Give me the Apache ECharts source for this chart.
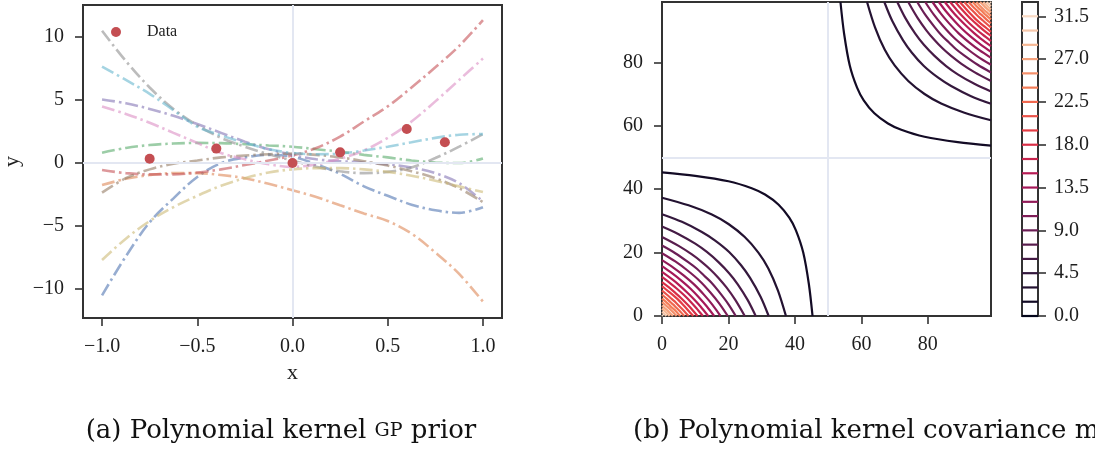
<!DOCTYPE html>
<html>
<head>
<meta charset="utf-8">
<script src="https://cdn.jsdelivr.net/npm/echarts@6/dist/echarts.min.js"></script>
<style>
html,body{margin:0;padding:0;background:#fff;}
#chart{width:1095px;height:450px;}
</style>
</head>
<body>
<div id="chart"></div>
<script>
// ---------- Panel (a): GP prior samples ----------
const sampleX = [-1, -0.875, -0.75, -0.625, -0.5, -0.375, -0.25, -0.125, 0, 0.125, 0.25, 0.375, 0.5, 0.625, 0.75, 0.875, 1];
const sampleBlue   = [-10.5, -7.4, -4.7, -2.8, -1.1, 0.0, 0.45, 0.65, 0.5, -0.1, -0.85, -1.85, -2.6, -3.3, -3.75, -3.95, -3.5];
const sampleOrange = [-1.75, -1.25, -0.95, -0.8, -0.8, -0.95, -1.2, -1.65, -2.15, -2.7, -3.35, -4.0, -4.6, -5.6, -7.1, -8.8, -11.0];
const sampleGreen  = [0.82, 1.2, 1.43, 1.55, 1.6, 1.58, 1.5, 1.4, 1.3, 1.1, 0.9, 0.65, 0.45, 0.2, 0.05, 0.0, 0.37];
const sampleRed    = [-0.55, -0.8, -0.9, -0.9, -0.75, -0.5, -0.15, 0.2, 0.6, 1.2, 2.1, 3.3, 4.5, 6.0, 7.6, 9.3, 11.35];
const samplePurple = [5.05, 4.75, 4.3, 3.75, 3.1, 2.4, 1.7, 1.1, 0.65, 0.3, 0.15, 0.05, -0.1, -0.35, -0.8, -1.6, -3.05];
const sampleBrown  = [-2.35, -1.2, -0.5, -0.05, 0.2, 0.45, 0.6, 0.7, 0.75, 0.65, 0.45, 0.15, -0.2, -0.65, -1.2, -2.0, -3.1];
const samplePink   = [4.5, 3.9, 3.2, 2.4, 1.6, 0.8, 0.3, -0.1, -0.3, -0.1, 0.35, 1.0, 2.0, 3.3, 4.9, 6.6, 8.3];
const sampleGray   = [10.5, 8.1, 6.0, 4.3, 3.0, 2.0, 1.3, 0.7, 0.2, -0.3, -0.65, -0.8, -0.7, -0.35, 0.4, 1.3, 2.3];
const sampleOlive  = [-7.7, -6.0, -4.6, -3.5, -2.6, -1.8, -1.2, -0.75, -0.5, -0.4, -0.4, -0.5, -0.7, -1.0, -1.4, -1.85, -2.3];
const sampleCyan   = [7.65, 6.6, 5.5, 4.2, 2.9, 2.2, 1.6, 1.1, 0.8, 0.7, 0.75, 1.0, 1.3, 1.65, 2.0, 2.25, 2.3];

const dataX = [-0.75, -0.4, 0, 0.25, 0.6, 0.8];
const dataY = [0.35, 1.15, 0, 0.85, 2.7, 1.65];

const xTicksA = [-1, -0.5, 0, 0.5, 1];
const yTicksA = [-10, -5, 0, 5, 10];

// ---------- Panel (b): covariance contours ----------
const contourLevels = [1.5, 3.0, 4.5, 6.0, 7.5, 9.0, 10.5, 12.0, 13.5, 15.0, 16.5, 18.0, 19.5, 21.0, 22.5, 24.0, 25.5, 27.0, 28.5, 30.0, 31.5];
// half of each contour (from the axis to the diagonal), lower-left corner
const lowerLeftHalves = [
  [[45.3,0],[44.2,10],[42.5,20],[40.3,27],[38.3,31],[35.1,35.1]],
  [[37.3,0],[34.9,8],[32.0,15],[29.0,20],[24.9,24.9]],
  [[32.1,0],[29.7,6],[26.5,12],[23.8,16],[20.2,20.2]],
  [[28.2,0],[25.8,5],[22.8,10],[20.2,13.5],[17.0,17.0]],
  [[24.9,0],[22.1,5],[19.4,9],[17.0,12],[14.6,14.6]],
  [[22.2,0],[19.8,4],[16.9,8],[14.9,10.5],[12.7,12.7]],
  [[19.8,0],[17.2,4],[14.5,7.5],[11.2,11.2]],
  [[17.6,0],[15.2,3.5],[12.8,6.5],[9.8,9.8]],
  [[15.7,0],[13.5,3],[11.0,6],[8.6,8.6]],
  [[13.9,0],[11.6,3],[9.9,5],[7.5,7.5]],
  [[12.3,0],[10.3,2.5],[8.6,4.5],[6.6,6.6]],
  [[10.7,0],[9.1,2],[7.3,4],[5.7,5.7]],
  [[9.4,0],[7.7,2],[6.4,3.5],[5.0,5.0]],
  [[8.0,0],[6.7,1.5],[5.3,3],[4.2,4.2]],
  [[6.7,0],[5.4,1.5],[4.4,2.5],[3.5,3.5]],
  [[5.5,0],[4.6,1],[3.7,2],[2.8,2.8]],
  [[4.4,0],[3.5,1],[2.3,2.3]],
  [[3.3,0],[2.5,0.8],[1.7,1.7]],
  [[2.3,0],[1.2,1.2]],
  [[1.3,0],[0.7,0.7]],
  [[0.3,0],[0.15,0.15]]
];
// upper-right corner
const upperRightHalves = [
  [[53.7,99],[54.8,89],[56.5,79],[58.7,72],[60.7,68],[63.9,63.9]],
  [[61.7,99],[64.1,91],[67.0,84],[70.0,79],[74.1,74.1]],
  [[66.9,99],[69.3,93],[72.5,87],[75.2,83],[78.8,78.8]],
  [[70.8,99],[73.2,94],[76.2,89],[78.8,85.5],[82.0,82.0]],
  [[74.1,99],[76.9,94],[79.6,90],[82.0,87],[84.4,84.4]],
  [[76.8,99],[79.2,95],[82.1,91],[84.1,88.5],[86.3,86.3]],
  [[79.2,99],[81.8,95],[84.5,91.5],[87.8,87.8]],
  [[81.4,99],[83.8,95.5],[86.2,92.5],[89.2,89.2]],
  [[83.3,99],[85.5,96],[88.0,93],[90.4,90.4]],
  [[85.1,99],[87.4,96],[89.1,94],[91.5,91.5]],
  [[86.7,99],[88.7,96.5],[90.4,94.5],[92.4,92.4]],
  [[88.3,99],[89.9,97],[91.7,95],[93.3,93.3]],
  [[89.6,99],[91.3,97],[92.6,95.5],[94.0,94.0]],
  [[91.0,99],[92.3,97.5],[93.7,96],[94.8,94.8]],
  [[92.3,99],[93.6,97.5],[94.6,96.5],[95.5,95.5]],
  [[93.5,99],[94.4,98],[95.3,97],[96.2,96.2]],
  [[94.6,99],[95.5,98],[96.7,96.7]],
  [[95.7,99],[96.5,98.2],[97.3,97.3]],
  [[96.7,99],[97.8,97.8]],
  [[97.7,99],[98.3,98.3]],
  [[98.7,99],[98.85,98.85]]
];
const gridTicksB = [0, 20, 40, 60, 80];
const colorbarLevels = [0.0, 1.5, 3.0, 4.5, 6.0, 7.5, 9.0, 10.5, 12.0, 13.5, 15.0, 16.5, 18.0, 19.5, 21.0, 22.5, 24.0, 25.5, 27.0, 28.5, 30.0, 31.5];
const colorbarTicks = [0.0, 4.5, 9.0, 13.5, 18.0, 22.5, 27.0, 31.5];
const colorbarMax = 33;

// ---------- styling helpers ----------
const FONT = 'Liberation Serif';
const TXT = '#1e1e1e';
const FRAME = '#333333';
const FAINT = '#e3e7f2';
const rocketStops = [
  [0.0, [3,5,26]], [0.143, [53,25,62]], [0.286, [112,31,87]], [0.429, [173,23,89]],
  [0.571, [225,51,66]], [0.714, [243,118,81]], [0.857, [246,180,143]], [1.0, [250,235,221]]
];
function rocket(t) {
  t = Math.max(0, Math.min(1, t));
  for (let i = 1; i < rocketStops.length; i++) {
    if (t <= rocketStops[i][0]) {
      const a = rocketStops[i-1], b = rocketStops[i];
      const f = (t - a[0]) / (b[0] - a[0]);
      const c = a[1].map((v, k) => Math.round(v + (b[1][k] - v) * f));
      return 'rgb(' + c.join(',') + ')';
    }
  }
  return 'rgb(250,235,221)';
}
const minus = s => String(s).replace('-', '\u2212');
const dashDot = [13, 4, 2.5, 4];

const samples = [
  ['#4C72B0', sampleBlue], ['#DD8452', sampleOrange], ['#55A868', sampleGreen],
  ['#C44E52', sampleRed], ['#8172B3', samplePurple], ['#937860', sampleBrown],
  ['#DA8BC3', samplePink], ['#8C8C8C', sampleGray], ['#CCB974', sampleOlive],
  ['#64B5CD', sampleCyan]
];

const series = [];
// faint zero lines, panel (a)
series.push({
  type: 'line', xAxisIndex: 0, yAxisIndex: 0, data: [], z: 1, silent: true,
  markLine: { silent: true, symbol: 'none', label: {show: false},
    lineStyle: {color: FAINT, width: 2, type: 'solid'},
    data: [{xAxis: 0}, {yAxis: 0}] }
});
samples.forEach(([col, ys]) => {
  series.push({
    type: 'line', xAxisIndex: 0, yAxisIndex: 0, smooth: 0.35, showSymbol: false, z: 2,
    data: sampleX.map((x, i) => [x, ys[i]]),
    lineStyle: {color: col, width: 2.6, type: dashDot, opacity: 0.58, cap: 'butt'}
  });
});
series.push({
  name: 'Data', type: 'scatter', xAxisIndex: 0, yAxisIndex: 0, z: 5,
  symbolSize: 10, itemStyle: {color: '#C44E52', opacity: 1},
  data: dataX.map((x, i) => [x, dataY[i]])
});

// faint lines panel (b)
series.push({
  type: 'line', xAxisIndex: 1, yAxisIndex: 1, data: [], z: 1, silent: true,
  markLine: { silent: true, symbol: 'none', label: {show: false},
    lineStyle: {color: FAINT, width: 2, type: 'solid'},
    data: [{xAxis: 50}, {yAxis: 50}] }
});
function fullCurve(half) {
  const back = half.slice(0, -1).reverse().map(p => [p[1], p[0]]);
  return half.concat(back);
}
contourLevels.forEach((lev, i) => {
  const col = rocket(lev / colorbarMax);
  [lowerLeftHalves[i], upperRightHalves[i]].forEach(h => {
    series.push({
      type: 'line', xAxisIndex: 1, yAxisIndex: 1, smooth: 0.3, showSymbol: false, z: 3,
      data: fullCurve(h), lineStyle: {color: col, width: 2.2}, clip: true
    });
  });
});

// colorbar lines
series.push({
  type: 'custom', xAxisIndex: 2, yAxisIndex: 2, z: 3,
  data: colorbarLevels.map(v => [0.5, v]),
  renderItem: function (params, api) {
    const v = api.value(1);
    const p1 = api.coord([0, v]);
    const p2 = api.coord([1, v]);
    return {type: 'line', shape: {x1: p1[0], y1: p1[1], x2: p2[0], y2: p2[1]},
      style: {stroke: rocket(v / colorbarMax), lineWidth: 2.2}};
  }
});

function valAxis(opts) {
  return Object.assign({
    type: 'value', scale: false,
    axisLine: {show: true, onZero: false, lineStyle: {color: FRAME, width: 2}},
    splitLine: {show: false}
  }, opts);
}
const tick = vals => ({show: true, length: 8, customValues: vals, lineStyle: {color: FRAME, width: 1.6}});
const lab = (vals, fmt, margin) => ({color: TXT, fontFamily: FONT, fontSize: 20, margin: margin || 19, customValues: vals, formatter: fmt});
const gridBase = {show: true, borderColor: FRAME, borderWidth: 2, backgroundColor: 'transparent', containLabel: false, outerBoundsMode: 'none'};

const option = {
  backgroundColor: '#fff',
  animation: false,
  grid: [
    Object.assign({left: 83, top: 5, width: 419, height: 313}, gridBase),
    Object.assign({left: 662, top: 2, width: 329, height: 314}, gridBase),
    Object.assign({left: 1022, top: 2, width: 16, height: 314}, gridBase)
  ],
  legend: {
    data: ['Data'], left: 111, top: 24, padding: 0, icon: 'circle', itemWidth: 10, itemHeight: 10,
    itemStyle: {opacity: 1},
    textStyle: {fontFamily: FONT, fontSize: 16, color: TXT, padding: [0, 0, 0, 21]}
  },
  xAxis: [
    valAxis({gridIndex: 0, min: -1.1, max: 1.1, axisTick: tick(xTicksA),
      axisLabel: lab(xTicksA, v => minus(v.toFixed(1))),
      name: 'x', nameLocation: 'middle', nameGap: 44,
      nameTextStyle: {fontFamily: FONT, fontSize: 22, color: TXT}}),
    valAxis({gridIndex: 1, min: 0, max: 99, axisTick: tick(gridTicksB),
      axisLabel: lab(gridTicksB, v => String(v))}),
    {type: 'value', gridIndex: 2, min: 0, max: 1, show: false}
  ],
  yAxis: [
    valAxis({gridIndex: 0, min: -12.3, max: 12.55, axisTick: tick(yTicksA),
      axisLabel: lab(yTicksA, v => minus(v)),
      name: 'y', nameLocation: 'middle', nameGap: 60, nameRotate: 90,
      nameTextStyle: {fontFamily: FONT, fontSize: 22, color: TXT}}),
    valAxis({gridIndex: 1, min: 0, max: 99, axisTick: tick(gridTicksB),
      axisLabel: lab(gridTicksB, v => String(v))}),
    valAxis({gridIndex: 2, min: 0, max: colorbarMax, position: 'right', axisTick: tick(colorbarTicks),
      axisLabel: lab(colorbarTicks, v => v.toFixed(1), 16)})
  ],
  graphic: [
    {type: 'text', x: 281, y: 431, style: {
      text: '(a) Polynomial kernel {sc|GP} prior', align: 'center', verticalAlign: 'middle',
      font: '26px "DejaVu Serif"', fill: '#111',
      rich: {sc: {fontFamily: 'DejaVu Serif', fontSize: 19, fill: '#111'}}}},
    {type: 'text', x: 633, y: 431, style: {
      text: '(b) Polynomial kernel covariance matrix', align: 'left', verticalAlign: 'middle',
      font: '26px "DejaVu Serif"', fill: '#111'}}
  ],
  series: series
};

const chart = echarts.init(document.getElementById('chart'), null, {renderer: 'canvas'});
chart.setOption(option);
</script>
</body>
</html>
